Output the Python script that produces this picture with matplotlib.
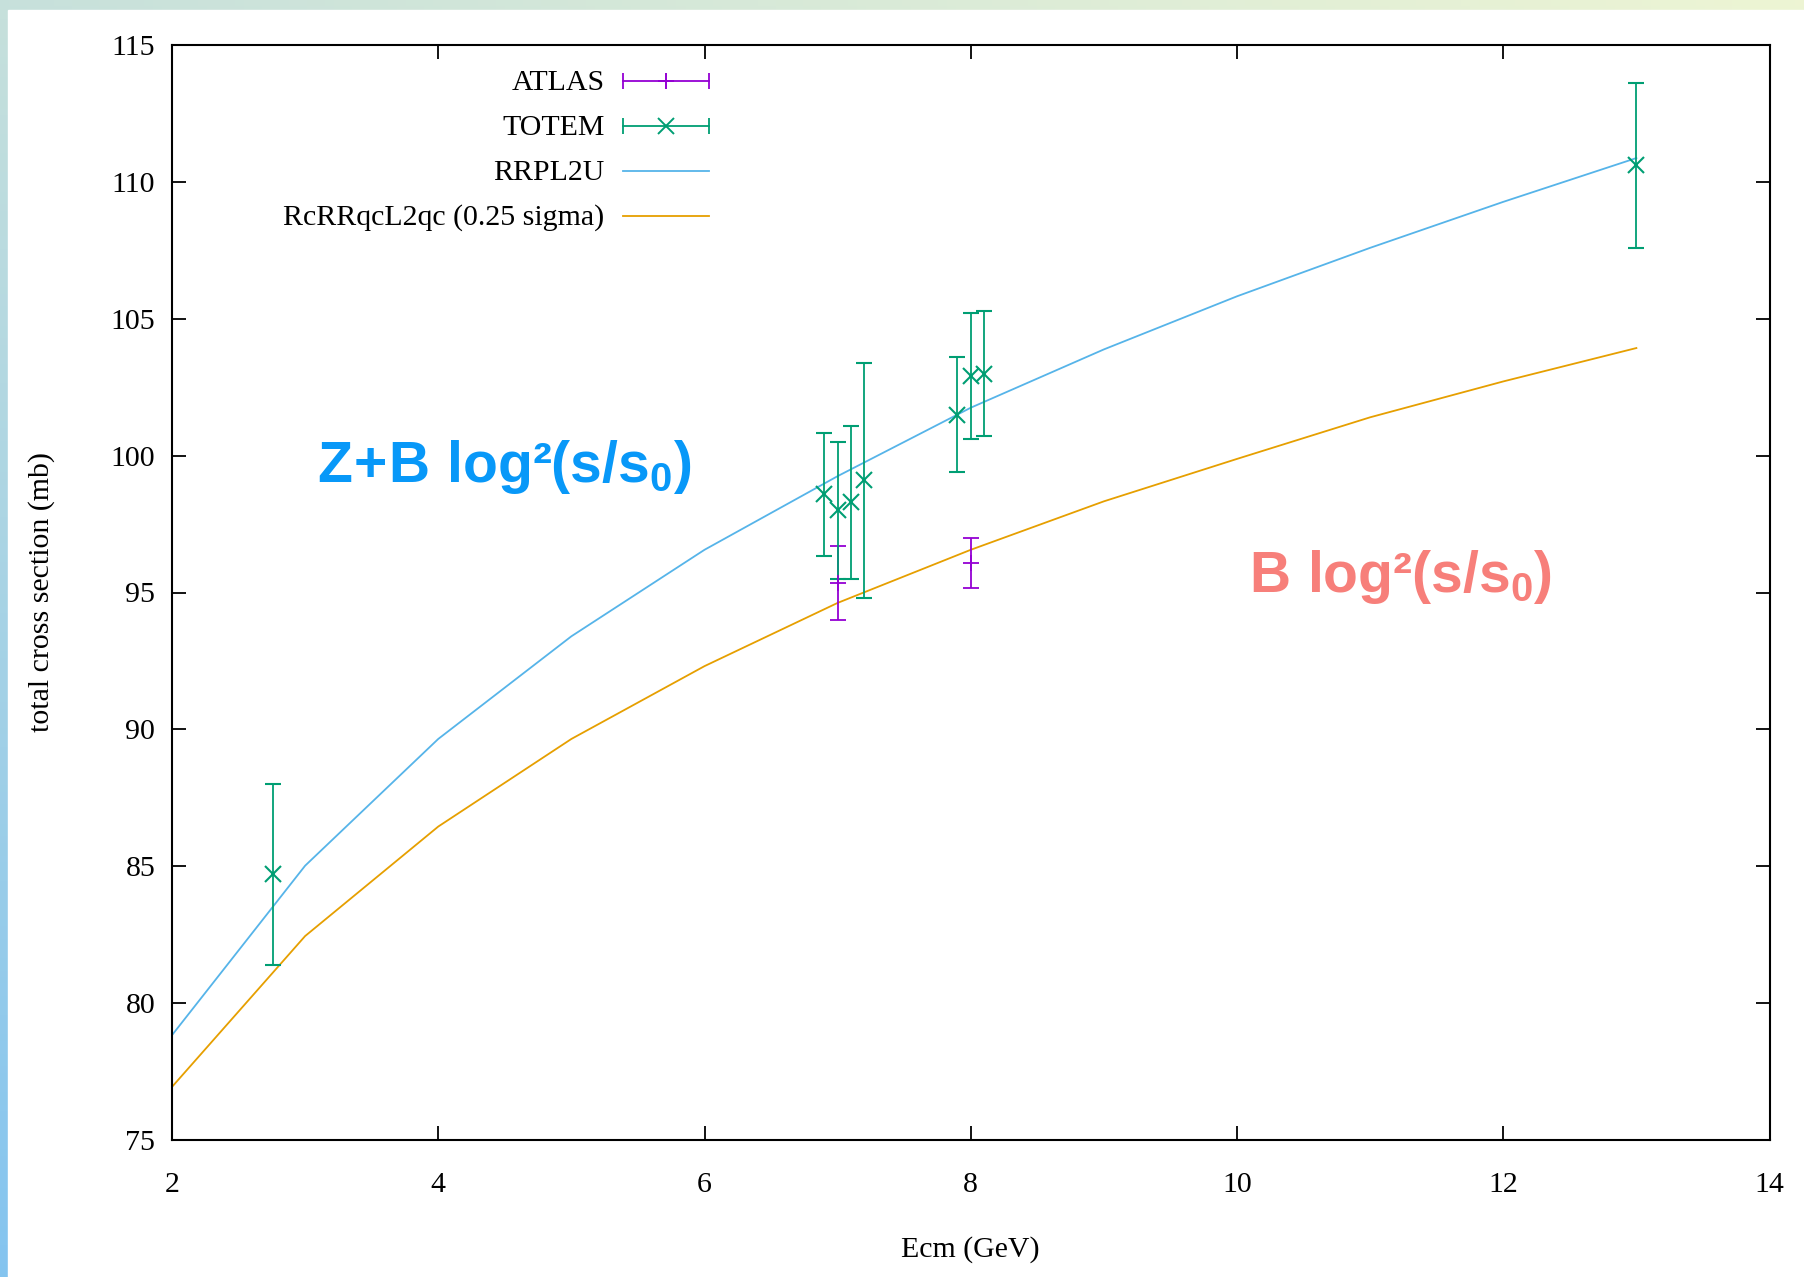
import numpy as np
import matplotlib
matplotlib.use("Agg")
import matplotlib.pyplot as plt
from matplotlib.lines import Line2D
from matplotlib.patches import Rectangle

# model curves (integer energies, TeV)
energy = [2, 3, 4, 5, 6, 7, 8, 9, 10, 11, 12, 13]
rrpl2u = [78.83, 85.02, 89.65, 93.40, 96.56, 99.25, 101.75, 103.88, 105.82, 107.59, 109.27, 110.87]
rcrrqc = [76.94, 82.45, 86.45, 89.65, 92.31, 94.62, 96.56, 98.33, 99.88, 101.40, 102.71, 103.93]

# measurements
totem_x = [2.76, 6.9, 7.0, 7.1, 7.2, 7.9, 8.0, 8.1, 13.0]
totem_y = [84.7, 98.58, 98.0, 98.3, 99.1, 101.5, 102.9, 103.0, 110.6]
totem_err = [3.3, 2.23, 2.5, 2.8, 4.3, 2.1, 2.3, 2.3, 3.0]

atlas_x = [7.0, 8.0]
atlas_y = [95.35, 96.07]
atlas_err = [1.36, 0.92]

C_ATLAS = "#9400d3"
C_TOTEM = "#009e73"
C_BLUE = "#56b4e9"
C_ORANGE = "#e69f00"

plt.rcParams["font.family"] = ["Liberation Serif", "DejaVu Serif"]
plt.rcParams["font.size"] = 21.5
plt.rcParams["mathtext.fontset"] = "custom"
plt.rcParams["mathtext.rm"] = "Liberation Sans:bold"
plt.rcParams["mathtext.it"] = "Liberation Sans:bold"
plt.rcParams["mathtext.bf"] = "Liberation Sans:bold"

W, H = 1804, 1277
fig = plt.figure(figsize=(W / 100, H / 100), dpi=100)

# slide-like gradient frame
bg = fig.add_axes([0, 0, 1, 1], zorder=-10)
bg.axis("off")
tl = np.array([0.78, 0.88, 0.86])
tr = np.array([0.93, 0.96, 0.83])
bl = np.array([0.52, 0.77, 0.94])
br = np.array([0.80, 0.90, 0.90])
u = np.linspace(0, 1, 200)[None, :, None]
v = np.linspace(0, 1, 200)[:, None, None]
grad = (1 - v) * ((1 - u) * tl + u * tr) + v * ((1 - u) * bl + u * br)
bg.imshow(grad, extent=[0, 1, 0, 1], aspect="auto", origin="upper")
bg.add_patch(Rectangle((8 / W, 0), 1, 1 - 10 / H, color="white",
                       transform=bg.transAxes))
bg.set_xlim(0, 1)
bg.set_ylim(0, 1)

ax = fig.add_axes([172 / W, 1 - 1140 / H, (1769.5 - 172) / W, (1140 - 45) / H])

ax.plot(energy, rrpl2u, color=C_BLUE, lw=1.3)
ax.plot(energy, rcrrqc, color=C_ORANGE, lw=1.3)
ax.errorbar(atlas_x, atlas_y, yerr=atlas_err, fmt="+", color=C_ATLAS,
            ms=11, mew=1.3, elinewidth=1.3, capsize=5.5, capthick=1.3)
ax.errorbar(totem_x, totem_y, yerr=totem_err, fmt="x", color=C_TOTEM,
            ms=11, mew=1.5, elinewidth=1.3, capsize=5.5, capthick=1.3)

ax.set_xlim(2, 14)
ax.set_ylim(75, 115)
ax.set_xticks(range(2, 15, 2))
ax.set_yticks(range(75, 116, 5))
ax.tick_params(direction="in", length=10, width=1.3, top=True, right=True)
ax.tick_params(axis="x", pad=23)
ax.tick_params(axis="y", pad=12)
for s in ax.spines.values():
    s.set_linewidth(1.5)

ax.set_xlabel("Ecm (GeV)")
ax.set_ylabel("total cross section (mb)")
ax.xaxis.set_label_coords(0.5, -0.088)
ax.yaxis.set_label_coords(-0.073, 0.5)

# gnuplot-style key: text right-aligned, sample to the right
key_rows = [0.9674, 0.9263, 0.8853, 0.8442]
key_text = ["ATLAS", "TOTEM", "RRPL2U", "RcRRqcL2qc (0.25 sigma)"]
key_col = [C_ATLAS, C_TOTEM, C_BLUE, C_ORANGE]
x0, x1, xm = 0.2822, 0.3362, 0.3092
for i, (yk, t, c) in enumerate(zip(key_rows, key_text, key_col)):
    ax.text(0.2707, yk - 0.002, t, transform=ax.transAxes, ha="right", va="center")
    ax.add_line(Line2D([x0, x1], [yk, yk], color=c, lw=1.3,
                       transform=ax.transAxes))
    if i < 2:
        ax.add_line(Line2D([x0, x1], [yk, yk], ls="none", marker="|",
                           ms=11, mew=1.3, color=c, transform=ax.transAxes))
        ax.add_line(Line2D([xm], [yk], ls="none", marker="+" if i == 0 else "x",
                           ms=11, mew=1.4, color=c, transform=ax.transAxes))

big = dict(fontsize=41, ha="left", va="baseline")
ax.text(3.09, 99.04, r"$\mathrm{Z\!+\!B\ log²(s/s_{0})}$", color="#0898f8", **big)
ax.text(10.09, 95.02, r"$\mathrm{B\ log²(s/s_{0})}$", color="#f77f7a", **big)

fig.savefig("out.png", dpi=100)
